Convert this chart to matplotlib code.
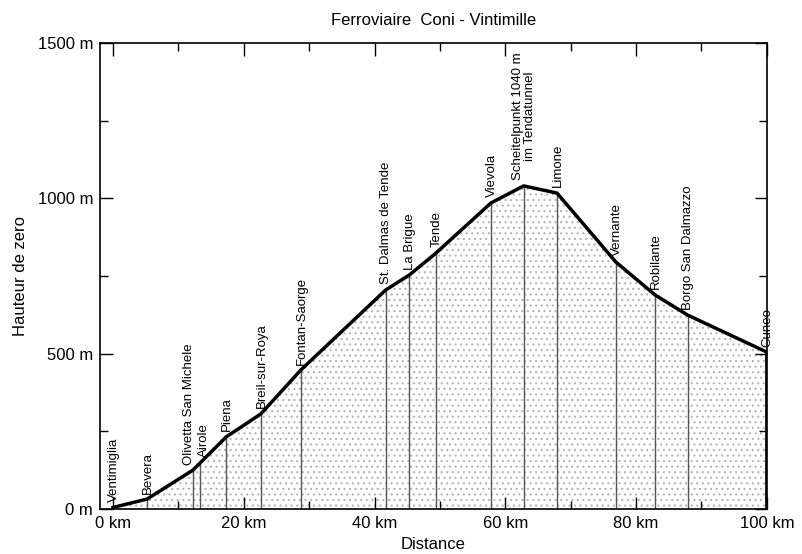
import matplotlib.pyplot as plt
from matplotlib.ticker import MultipleLocator, FuncFormatter

# ---------------------------------------------------------
# 1. Datos: estaciones, distancia (km) y altitud (m)
# ---------------------------------------------------------
estaciones = [
    "Ventimiglia", "Bevera", "Olivetta San Michele", "Airole", "Piena",
    "Breil-sur-Roya", "Fontan-Saorge", "St. Dalmas de Tende", "La Brigue",
    "Tende", "Vievola", "Scheitelpunkt 1040 m\nim Tendatunnel", "Limone",
    "Vernante", "Robilante", "Borgo San Dalmazzo", "Cuneo",
]
distancia = [0.0, 5.2, 12.2, 13.3, 17.3, 22.6, 28.7, 41.7, 45.3,
             49.4, 57.8, 62.8, 67.9, 76.9, 82.9, 87.9, 100.0]
altitud = [5, 32, 125, 148, 232, 306, 447, 705, 753,
           824, 985, 1040, 1017, 795, 689, 624, 505]

# pequeño desplazamiento horizontal de algunos nombres (puntos)
desplazamiento = {"Olivetta San Michele": -2.5, "Airole": 2.5}


# ---------------------------------------------------------
# 2. Función: dibujar el perfil
# ---------------------------------------------------------
def generar_grafico():
    plt.rcParams["font.family"] = ["Liberation Sans", "DejaVu Sans"]
    plt.rcParams["hatch.color"] = "#b4b4b4"
    plt.rcParams["hatch.linewidth"] = 0.8

    fig = plt.figure(figsize=(8.03, 5.54), dpi=100)
    ax = fig.add_axes([0.1245, 0.0812, 0.8305, 0.8412])

    # relleno punteado bajo el perfil
    ax.fill_between(distancia, altitud, 0, facecolor="white",
                    edgecolor="#b4b4b4", hatch="...", linewidth=0)

    # líneas verticales y nombres de estaciones
    for nombre, x, y in zip(estaciones, distancia, altitud):
        ax.plot([x, x], [0, y], color="#555555", linewidth=1.0)
        dx = desplazamiento.get(nombre, 0.5)
        ax.annotate(nombre, (x, y), xytext=(dx, 4), textcoords="offset points",
                    rotation=90, ha="center", va="bottom", fontsize=9.5,
                    linespacing=1.0)

    # perfil (cierra con la vertical de Cuneo)
    ax.plot(distancia + [distancia[-1]], altitud + [0],
            color="black", linewidth=2.5, solid_joinstyle="round")

    ax.set_xlim(-2, 100)
    ax.set_ylim(0, 1500)
    ax.xaxis.set_major_locator(MultipleLocator(20))
    ax.xaxis.set_minor_locator(MultipleLocator(10))
    ax.yaxis.set_major_locator(MultipleLocator(500))
    ax.yaxis.set_minor_locator(MultipleLocator(250))
    ax.xaxis.set_major_formatter(FuncFormatter(lambda v, p: f"{v:.0f} km"))
    ax.yaxis.set_major_formatter(FuncFormatter(lambda v, p: f"{v:.0f} m"))
    ax.tick_params(which="both", direction="in", top=True, right=True,
                   labelsize=12, width=1)
    ax.tick_params(which="major", length=9, pad=5)
    ax.tick_params(which="minor", length=6)
    for lado in ax.spines.values():
        lado.set_linewidth(1.2)

    ax.set_title("Ferroviaire  Coni - Vintimille", fontsize=12, pad=13)
    ax.set_xlabel("Distance", fontsize=12, labelpad=4)
    ax.set_ylabel("Hauteur de zero", fontsize=12, labelpad=7)

    fig.savefig("out.png", dpi=100)
    plt.close(fig)


# ---------------------------------------------------------
# 3. PROGRAMA PRINCIPAL
# ---------------------------------------------------------
if __name__ == "__main__":
    generar_grafico()
